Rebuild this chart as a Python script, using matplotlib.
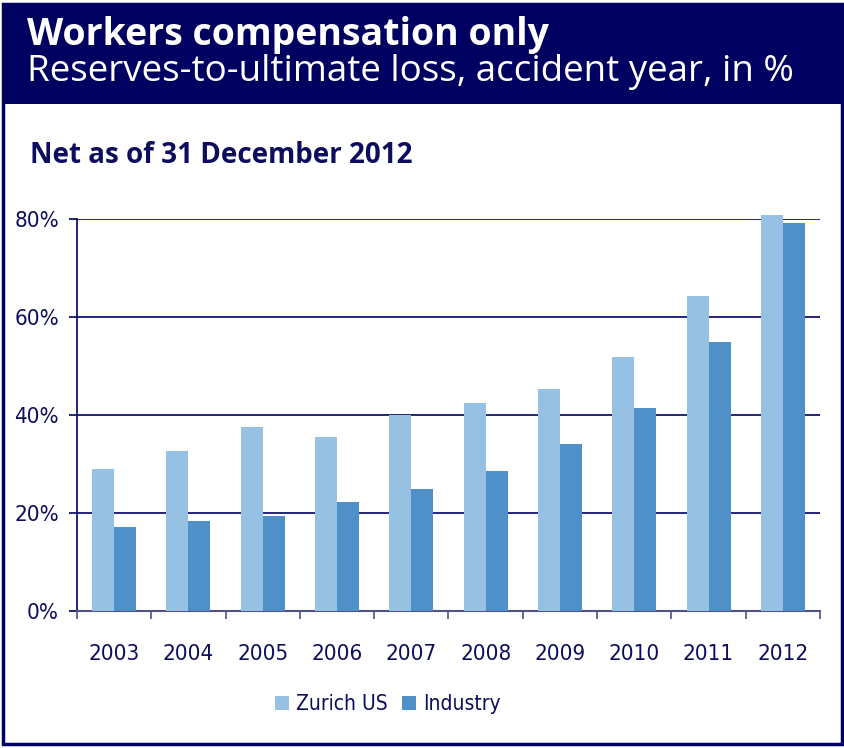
import matplotlib
matplotlib.use("Agg")
import matplotlib.pyplot as plt
from matplotlib.patches import Rectangle
from matplotlib import font_manager
import numpy as np

years = ["2003", "2004", "2005", "2006", "2007", "2008", "2009", "2010", "2011", "2012"]
zurich_us = [29.0, 32.6, 37.6, 35.6, 40.0, 42.5, 45.3, 51.8, 64.3, 80.9]
industry = [17.2, 18.3, 19.4, 22.2, 24.9, 28.6, 34.1, 41.4, 54.9, 79.1]
y_ticks = [0, 20, 40, 60, 80]
y_tick_labels = ["0%", "20%", "40%", "60%", "80%"]

NAVY = "#000060"
TEXT = "#0d0d5e"
LIGHT = "#97c1e3"
DARK = "#4f90c8"

W, H = 845, 748
fig = plt.figure(figsize=(W / 100, H / 100), dpi=100)
fig.patch.set_facecolor("white")

narrow = font_manager.FontProperties(family="DejaVu Sans", stretch="condensed", size=16)


def px(x, y):
    return x / W, 1 - y / H


# outer frame and header block
fig.patches.append(Rectangle(px(3, 744), 839 / W, 740 / H, transform=fig.transFigure,
                             fill=False, edgecolor=NAVY, linewidth=2.5, zorder=0))
fig.patches.append(Rectangle(px(2, 104), 840 / W, 100 / H, transform=fig.transFigure,
                             facecolor=NAVY, edgecolor="none", zorder=1))

fig.text(*px(27, 45), "Workers compensation only", color="white", fontsize=27,
         fontweight="bold", family="Open Sans", va="baseline", ha="left")
fig.text(*px(27, 81), "Reserves-to-ultimate loss, accident year, in %", color="white",
         fontsize=26.5, family="Open Sans", va="baseline", ha="left")
fig.text(*px(30, 163), "Net as of 31 December 2012", color=TEXT, fontsize=20,
         fontweight="bold", family="Open Sans", va="baseline", ha="left")

# chart area
x0, x1, ytop, ybot = 77, 820, 219, 611
ax = fig.add_axes([x0 / W, 1 - ybot / H, (x1 - x0) / W, (ybot - ytop) / H])
x = np.arange(len(years))
bw = 0.296
ax.bar(x - bw / 2, zurich_us, width=bw, color=LIGHT, label="Zurich US", zorder=3, clip_on=False)
ax.bar(x + bw / 2, industry, width=bw, color=DARK, label="Industry", zorder=3, clip_on=False)

ax.set_xlim(-0.5, len(years) - 0.5)
ax.set_ylim(0, 80)
ax.set_yticks(y_ticks)
ax.set_yticklabels(y_tick_labels)
ax.yaxis.grid(True, color=NAVY, linewidth=1.2, zorder=1)
ax.set_axisbelow(True)
ax.set_xticks(x)
ax.set_xticklabels(years)
ax.set_xticks(np.arange(len(years) + 1) - 0.5, minor=True)
ax.tick_params(axis="x", which="major", length=0, pad=24, labelcolor=TEXT)
ax.tick_params(axis="x", which="minor", length=6, width=1.2, color="#50508a", direction="out")
ax.tick_params(axis="y", length=6, width=1.2, color=NAVY, labelcolor=TEXT, pad=7)
for lab in ax.get_xticklabels() + ax.get_yticklabels():
    lab.set_fontproperties(narrow)
for s in ["top", "right"]:
    ax.spines[s].set_visible(False)
ax.spines["left"].set_color(NAVY)
ax.spines["left"].set_linewidth(1.2)
ax.spines["bottom"].set_color("#50508a")
ax.spines["bottom"].set_linewidth(1.5)

legprop = font_manager.FontProperties(family="DejaVu Sans", stretch="condensed", size=15)
leg = fig.legend(loc="center", bbox_to_anchor=px(388, 704), ncol=2, frameon=False,
                 handlelength=0.65, handleheight=0.65, handletextpad=0.35, columnspacing=0.7,
                 prop=legprop)
for t in leg.get_texts():
    t.set_color(TEXT)

fig.savefig("out.png", dpi=100)
